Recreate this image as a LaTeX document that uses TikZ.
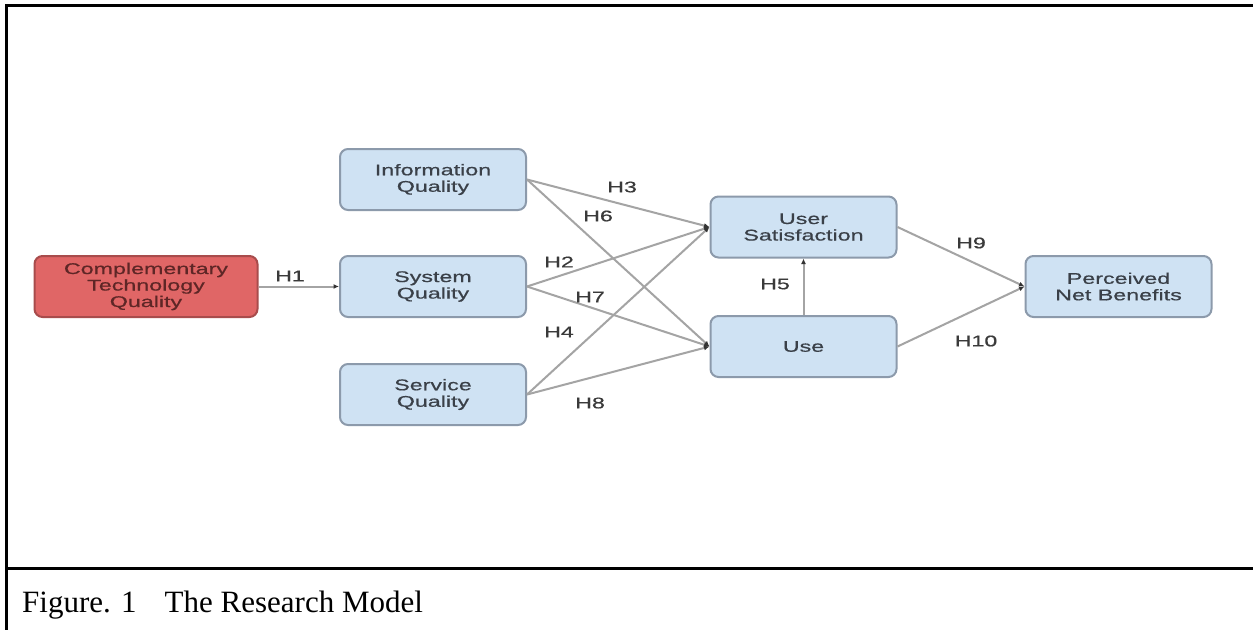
\documentclass[tikz,border=0pt]{standalone}
\usepackage{fontspec}
\setmainfont{Liberation Serif}
\newfontfamily\nodefont[FakeStretch=1.5,FakeBold=0.6]{Liberation Sans}
\usetikzlibrary{arrows.meta}
\definecolor{boxblue}{HTML}{CFE2F3}
\definecolor{blueborder}{HTML}{8C9AAB}
\definecolor{bluetext}{HTML}{3A4048}
\definecolor{boxred}{HTML}{E06666}
\definecolor{redborder}{HTML}{A84C4C}
\definecolor{redtext}{HTML}{5E2626}
\definecolor{conngray}{HTML}{A4A4A4}
\definecolor{labeltext}{HTML}{3A3A3A}
\tikzset{
  bluebox/.style={draw=blueborder, line width=2pt, fill=boxblue, rounded corners=8pt,
    minimum width=186pt, minimum height=61pt, align=center, inner sep=0pt,
    font=\nodefont\fontsize{15.5}{16.5}\selectfont, text=bluetext},
  redbox/.style={bluebox, draw=redborder, fill=boxred, text=redtext, minimum width=223pt},
  conn/.style={draw=conngray, line width=2pt, -{Latex[length=5.5pt,width=5pt,color=black!80]}},
  hlabel/.style={font=\nodefont\fontsize{15.5}{16.5}\selectfont, text=labeltext, inner sep=0pt},
  frameline/.style={line width=3pt, draw=black}
}
\begin{document}
\begin{tikzpicture}[x=1pt,y=-1pt]
\useasboundingbox (0,0) rectangle (1253,630);
\fill[white] (0,0) rectangle (1253,630);
% frame
\draw[frameline] (5,5.5) -- (1253,5.5);
\draw[frameline] (6.5,4) -- (6.5,630);
\draw[frameline] (5,568.5) -- (1253,568.5);
% nodes
\node[redbox]  (comp) at (146,286.5) {Complementary\\Technology\\Quality};
\node[bluebox] (info) at (433,179.5) {Information\\Quality};
\node[bluebox] (sys)  at (433,286.5) {System\\Quality};
\node[bluebox] (serv) at (433,394.5) {Service\\Quality};
\node[bluebox] (us)   at (803.5,227) {User\\Satisfaction};
\node[bluebox] (use)  at (803.5,346.5) {Use};
\node[bluebox] (pnb)  at (1118.5,286.5) {Perceived\\Net Benefits};
% connectors
\draw[conn] (comp.east) -- (sys.west);
\draw[conn] (info.east) -- (us.west);
\draw[conn] (info.east) -- (use.west);
\draw[conn] (sys.east) -- (us.west);
\draw[conn] (sys.east) -- (use.west);
\draw[conn] (serv.east) -- (us.west);
\draw[conn] (serv.east) -- (use.west);
\draw[conn] (use.north) -- (us.south);
\draw[conn] (us.east) -- (pnb.west);
\draw[conn] (use.east) -- (pnb.west);
% labels
\node[hlabel] (h1) at (290,276) {H1};
\node[hlabel] (h3) at (622,187) {H3};
\node[hlabel] (h6) at (598,216) {H6};
\node[hlabel] (h2) at (559,262) {H2};
\node[hlabel] (h7) at (590,297) {H7};
\node[hlabel] (h4) at (559,332) {H4};
\node[hlabel] (h8) at (590,403) {H8};
\node[hlabel] (h5) at (775,284) {H5};
\node[hlabel] (h9) at (971,243) {H9};
\node[hlabel] (h10) at (976,341) {H10};
% caption
\node[anchor=base west, inner sep=0pt, font=\fontsize{31}{35}\selectfont] (cap) at (22,612) {Figure. 1\hspace{28pt}The Research Model};
\end{tikzpicture}
\end{document}
